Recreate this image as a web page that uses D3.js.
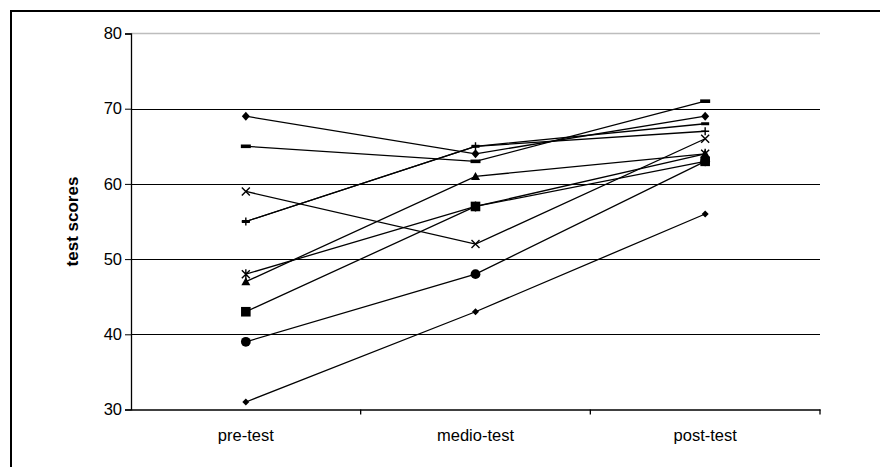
<!DOCTYPE html>
<html><head><meta charset="utf-8">
<script src="https://cdn.jsdelivr.net/npm/d3@7"></script>
<style>html,body{margin:0;padding:0;background:#fff;}svg{display:block;}</style>
</head><body>
<svg id="chart" width="880" height="467"></svg>
<script>
const categories = ["pre-test", "medio-test", "post-test"];
const yTicks = [30, 40, 50, 60, 70, 80];
const yTitle = "test scores";
const seriesDiamond = [69, 64, 69];
const seriesDash = [65, 63, 71];
const seriesCross = [59, 52, 66];
const seriesPlus = [55, 65, 67];
const seriesSmallDash = [55, 65, 68];
const seriesStar = [48, 57, 64];
const seriesTriangle = [47, 61, 64];
const seriesSquare = [43, 57, 63];
const seriesCircle = [39, 48, 63];
const seriesSmallDiamond = [31, 43, 56];

const series = [
  {values: seriesDiamond, marker: "diamond"},
  {values: seriesDash, marker: "dash"},
  {values: seriesCross, marker: "x"},
  {values: seriesPlus, marker: "plus"},
  {values: seriesSmallDash, marker: "smalldash"},
  {values: seriesStar, marker: "star"},
  {values: seriesTriangle, marker: "triangle"},
  {values: seriesSquare, marker: "square"},
  {values: seriesCircle, marker: "circle"},
  {values: seriesSmallDiamond, marker: "smalldiamond"}
];

const svg = d3.select("#chart");
const font = "Arial, 'Liberation Sans', sans-serif";
const m = {left: 131, right: 820, top: 33.5, bottom: 409.5};

// outer frame (left + top)
svg.append("path").attr("d", "M11,467 L11,11 L880,11").attr("fill", "none").attr("stroke", "#000").attr("stroke-width", 2);

const x = d3.scaleBand().domain(categories).range([m.left, m.right]);
const y = d3.scaleLinear().domain([30, 80]).range([m.bottom, m.top]);

// top plot border (grey)
svg.append("line").attr("x1", m.left).attr("x2", m.right).attr("y1", y(80)).attr("y2", y(80))
  .attr("stroke", "#bdbdbd").attr("stroke-width", 1.5);

// gridlines
svg.append("g").selectAll("line").data(yTicks.filter(t => t > 30 && t < 80)).join("line")
  .attr("x1", m.left).attr("x2", m.right)
  .attr("y1", d => Math.round(y(d)) + 0.5).attr("y2", d => Math.round(y(d)) + 0.5)
  .attr("stroke", "#000").attr("stroke-width", 1);

// y axis
const yAxis = svg.append("g").attr("transform", `translate(${m.left},0)`)
  .call(d3.axisLeft(y).tickValues(yTicks).tickSize(6).tickPadding(3).tickFormat(d3.format("d")));
yAxis.select(".domain").attr("stroke", "#000").attr("stroke-width", 1.3);
yAxis.selectAll(".tick line").attr("stroke", "#000");
yAxis.selectAll("text").attr("font-family", font).attr("font-size", 16.5).attr("fill", "#000");

// x axis
const xAxis = svg.append("g").attr("transform", `translate(0,${m.bottom})`)
  .call(d3.axisBottom(x).tickSize(0).tickPadding(20));
xAxis.select(".domain").attr("stroke", "#000").attr("stroke-width", 1.3);
xAxis.selectAll("text").attr("font-family", font).attr("font-size", 16.5).attr("fill", "#000");
// category boundary ticks
const bounds = categories.map(c => x(c)).concat([m.right]);
svg.append("g").selectAll("line").data(bounds.slice(1)).join("line")
  .attr("x1", d => d).attr("x2", d => d).attr("y1", m.bottom).attr("y2", m.bottom + 5)
  .attr("stroke", "#000").attr("stroke-width", 1.3);

// y title
svg.append("text").attr("transform", `translate(78,${(m.top + m.bottom) / 2}) rotate(-90)`)
  .attr("text-anchor", "middle").attr("font-family", font).attr("font-weight", "bold")
  .attr("font-size", 17).text(yTitle);

const cx = c => x(c) + x.bandwidth() / 2;
const line = d3.line().x((d, i) => cx(categories[i])).y(d => y(d));

const g = svg.append("g");
series.forEach(s => {
  g.append("path").attr("d", line(s.values)).attr("fill", "none").attr("stroke", "#000").attr("stroke-width", 1.3);
});

function markerPath(type) {
  switch (type) {
    case "diamond": return "M0,-4.5L4,0L0,4.5L-4,0Z";
    case "smalldiamond": return "M0,-3.5L3.5,0L0,3.5L-3.5,0Z";
    case "dash": return "M-5,-1.8H5V1.8H-5Z";
    case "smalldash": return "M-4,-1.5H4V1.5H-4Z";
    case "square": return "M-4.8,-4.8H4.8V4.8H-4.8Z";
    case "triangle": return "M0,-4.5L4.5,3.5H-4.5Z";
    case "circle": return d3.symbol(d3.symbolCircle, 75)();
    default: return null;
  }
}
series.forEach(s => {
  s.values.forEach((v, i) => {
    const px = cx(categories[i]), py = y(v);
    const mg = g.append("g").attr("transform", `translate(${px},${py})`);
    if (s.marker === "x") {
      mg.append("path").attr("d", "M-4,-4L4,4M-4,4L4,-4").attr("stroke", "#000").attr("stroke-width", 1.4).attr("fill", "none");
    } else if (s.marker === "plus") {
      mg.append("path").attr("d", "M-4,0H4M0,-4V4").attr("stroke", "#000").attr("stroke-width", 1.4).attr("fill", "none");
    } else if (s.marker === "star") {
      mg.append("path").attr("d", "M-4,-4L4,4M-4,4L4,-4M0,-5V5").attr("stroke", "#000").attr("stroke-width", 1.4).attr("fill", "none");
    } else {
      mg.append("path").attr("d", markerPath(s.marker)).attr("fill", "#000");
    }
  });
});
</script>
</body></html>
